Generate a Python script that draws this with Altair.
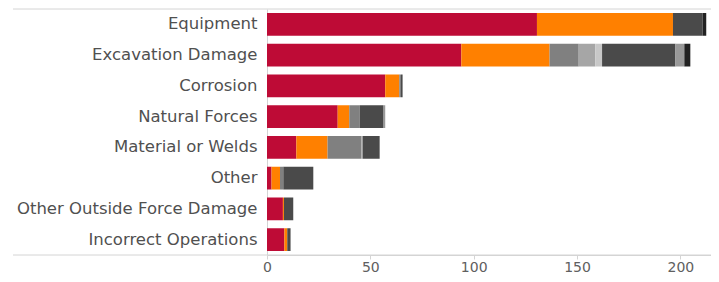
import altair as alt
import pandas as pd

categories = ["Equipment", "Excavation Damage", "Corrosion", "Natural Forces",
              "Material or Welds", "Other", "Other Outside Force Damage",
              "Incorrect Operations"]
series = ["S1", "S2", "S3", "S4", "S5", "S6", "S7", "S8"]
colors = ["#BE0B36", "#FF8000", "#808080", "#A6A6A6", "#C8C8C8", "#4A4A4A", "#999999", "#222222"]

s1 = [130.6, 94.0, 57.2, 34.2, 14.2, 2.2, 7.7, 8.4]
s2 = [65.8, 42.7, 6.8, 5.6, 15.1, 4.1, 0.5, 1.4]
s3 = [0, 14.1, 0.8, 5.0, 16.3, 1.6, 0, 0]
s4 = [0, 8.0, 0, 0, 0.7, 0, 0, 0]
s5 = [0, 3.3, 0, 0, 0, 0, 0, 0]
s6 = [14.3, 35.5, 0.8, 11.6, 8.2, 14.5, 4.5, 1.6]
s7 = [0, 4.3, 0, 0.8, 0, 0, 0, 0]
s8 = [1.8, 2.9, 0, 0, 0, 0, 0, 0]
x_ticks = [0, 50, 100, 150, 200]

all_series = [s1, s2, s3, s4, s5, s6, s7, s8]
rows = []
for si, (name, vals) in enumerate(zip(series, all_series)):
    for cat, v in zip(categories, vals):
        if v > 0:
            rows.append({"category": cat, "series": name, "value": v, "idx": si})
df = pd.DataFrame(rows)

W, H = 444, 246

bars = alt.Chart(df).mark_bar().encode(
    y=alt.Y("category:N", sort=categories,
            scale=alt.Scale(paddingInner=0.26, paddingOuter=0.13),
            axis=alt.Axis(title=None, ticks=False, labelFontSize=16.5,
                          labelColor="#505050", labelFont="DejaVu Sans",
                          labelPadding=10, domainColor="#d4d4d4", labelLimit=400)),
    x=alt.X("value:Q", stack="zero",
            scale=alt.Scale(domain=[0, 214.8], nice=False),
            axis=alt.Axis(title=None, values=x_ticks, grid=False, labelFontSize=14,
                          labelColor="#606060", labelFont="DejaVu Sans",
                          domainColor="#d4d4d4", tickColor="#d4d4d4", tickSize=4,
                          labelPadding=1, labelFlush=False)),
    color=alt.Color("series:N", scale=alt.Scale(domain=series, range=colors), legend=None),
    order=alt.Order("idx:Q"),
)

base = alt.Chart(pd.DataFrame({"a": [0]}))
top_rule = base.mark_rule(color="#d4d4d4").encode(
    x=alt.value(-254), x2=alt.value(W), y=alt.value(0))
bottom_rule = base.mark_rule(color="#d4d4d4").encode(
    x=alt.value(-254), x2=alt.value(W), y=alt.value(H))

chart = alt.layer(bars, top_rule, bottom_rule).properties(
    width=W, height=H,
    autosize=alt.AutoSizeParams(type="none"),
    padding={"left": 259, "top": 1, "right": 0, "bottom": 19},
).configure_view(stroke=None)

chart.save("out.html", embed_options={"renderer": "svg", "actions": False})
